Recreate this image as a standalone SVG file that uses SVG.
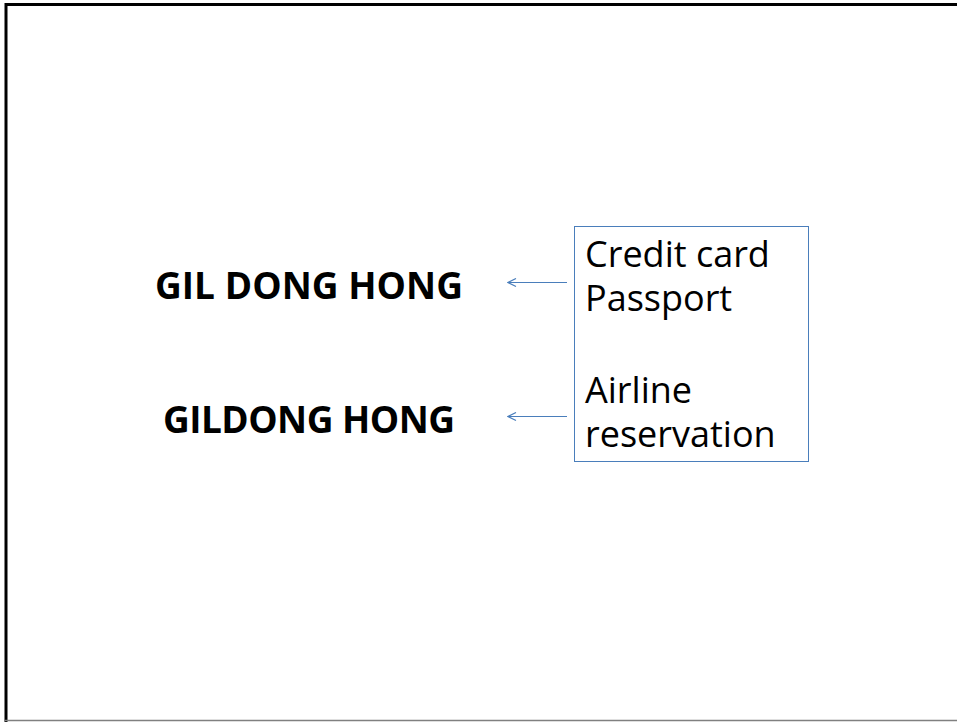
<svg xmlns="http://www.w3.org/2000/svg" width="957" height="722" viewBox="0 0 957 722">
<defs>
<style>
.name{font-family:"Open Sans","Noto Sans",sans-serif;font-weight:bold;font-size:37px;fill:#000}
.item{font-family:"Open Sans","Noto Sans",sans-serif;font-size:36px;fill:#000}
.conn{stroke:#4a7ebb;stroke-width:1;fill:none}
</style>
<marker id="ah" viewBox="0 0 10 10" refX="9" refY="5" markerWidth="10" markerHeight="10" markerUnits="userSpaceOnUse" orient="auto">
<path d="M1,1 L9,5 L1,9" fill="none" stroke="#4a7ebb" stroke-width="1.2"/>
</marker>
</defs>
<rect width="957" height="722" fill="#fff"/>
<g id="frame">
<line x1="5" y1="4.5" x2="957" y2="4.5" stroke="#000" stroke-width="3"/>
<line x1="6" y1="3" x2="6" y2="722" stroke="#000" stroke-width="3"/>
<line x1="5" y1="720.5" x2="957" y2="720.5" stroke="#808080" stroke-width="1.5"/>
</g>
<g id="name1"><text class="name" x="155" y="299" textLength="308" lengthAdjust="spacing">GIL DONG HONG</text></g>
<g id="name2"><text class="name" x="163" y="433" textLength="292" lengthAdjust="spacing">GILDONG HONG</text></g>
<g id="docs">
<rect x="574.5" y="226.5" width="234" height="235" fill="#fff" stroke="#4a7ebb" stroke-width="1"/>
<text class="item" x="585" y="267">Credit card</text>
<text class="item" x="585" y="311">Passport</text>
<text class="item" x="585" y="403">Airline</text>
<text class="item" x="585" y="447">reservation</text>
</g>
<g id="connectors">
<line class="conn" x1="567" y1="282.5" x2="508" y2="282.5" marker-end="url(#ah)"/>
<line class="conn" x1="567" y1="416.5" x2="508" y2="416.5" marker-end="url(#ah)"/>
</g>
</svg>
